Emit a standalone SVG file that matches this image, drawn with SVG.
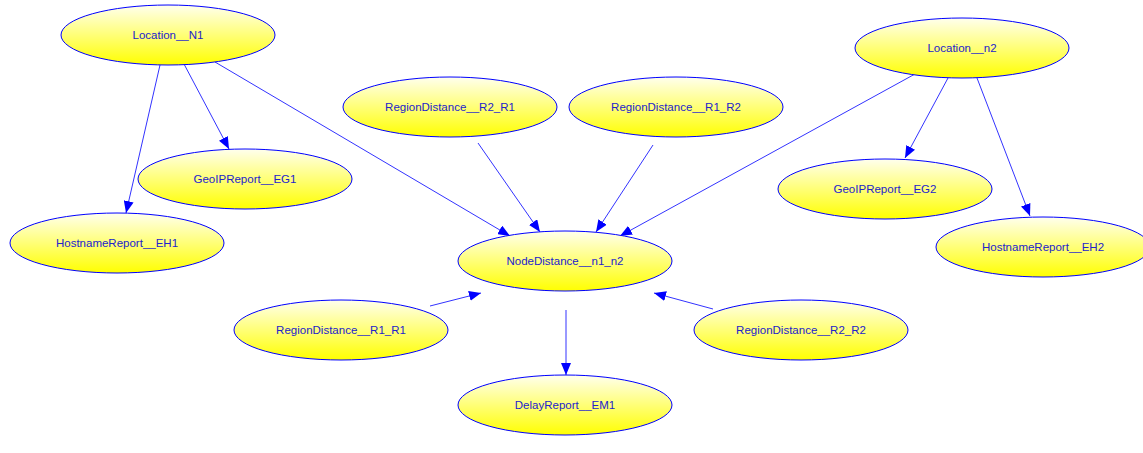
<svg xmlns="http://www.w3.org/2000/svg" width="1143" height="453" viewBox="0 0 1143 453">
<defs>
<linearGradient id="g" x1="0" y1="0" x2="0" y2="1">
<stop offset="0" stop-color="#ffffee"/>
<stop offset="1" stop-color="#ffff00"/>
</linearGradient>
<marker id="a" markerWidth="12" markerHeight="10" refX="12" refY="5" orient="auto" markerUnits="userSpaceOnUse">
<path d="M0,0 L12,5 L0,10 z" fill="#0000ff"/>
</marker>
<style>
.n ellipse{fill:url(#g);stroke:#0000ff;stroke-width:1}
.n text{font-family:"Liberation Sans",Arial,sans-serif;font-size:11.5px;fill:#2222cc;text-anchor:middle;dominant-baseline:central}
#edges line{stroke:#3333ff;stroke-width:1;marker-end:url(#a)}
</style>
</defs>
<rect width="1143" height="453" fill="#ffffff"/>
<g id="edges">
<line x1="160" y1="65" x2="126" y2="213"/>
<line x1="184" y1="64" x2="229" y2="149"/>
<line x1="215" y1="62" x2="510" y2="236"/>
<line x1="478" y1="143" x2="540" y2="232"/>
<line x1="653" y1="145" x2="596" y2="232"/>
<line x1="915" y1="74" x2="620" y2="236"/>
<line x1="948" y1="78" x2="905" y2="158"/>
<line x1="977" y1="78" x2="1030" y2="216"/>
<line x1="430" y1="306" x2="481" y2="293"/>
<line x1="713" y1="309" x2="654" y2="293"/>
<line x1="566" y1="310" x2="566" y2="375"/>
</g>
<g id="Location__N1" class="n"><ellipse cx="168" cy="35" rx="107" ry="30"/><text x="168" y="35">Location__N1</text></g>
<g id="Location__n2" class="n"><ellipse cx="962" cy="48" rx="107" ry="30"/><text x="962" y="48">Location__n2</text></g>
<g id="RegionDistance__R2_R1" class="n"><ellipse cx="450" cy="107" rx="107" ry="30"/><text x="450" y="107">RegionDistance__R2_R1</text></g>
<g id="RegionDistance__R1_R2" class="n"><ellipse cx="676" cy="107" rx="107" ry="30"/><text x="676" y="107">RegionDistance__R1_R2</text></g>
<g id="GeoIPReport__EG1" class="n"><ellipse cx="245" cy="179" rx="107" ry="30"/><text x="245" y="179">GeoIPReport__EG1</text></g>
<g id="GeoIPReport__EG2" class="n"><ellipse cx="885" cy="189" rx="107" ry="30"/><text x="885" y="189">GeoIPReport__EG2</text></g>
<g id="HostnameReport__EH1" class="n"><ellipse cx="117" cy="243" rx="107" ry="30"/><text x="117" y="243">HostnameReport__EH1</text></g>
<g id="HostnameReport__EH2" class="n"><ellipse cx="1043" cy="247" rx="107" ry="30"/><text x="1043" y="247">HostnameReport__EH2</text></g>
<g id="NodeDistance__n1_n2" class="n"><ellipse cx="565" cy="261" rx="107" ry="30"/><text x="565" y="261">NodeDistance__n1_n2</text></g>
<g id="RegionDistance__R1_R1" class="n"><ellipse cx="341" cy="330" rx="107" ry="30"/><text x="341" y="330">RegionDistance__R1_R1</text></g>
<g id="RegionDistance__R2_R2" class="n"><ellipse cx="801" cy="330" rx="107" ry="30"/><text x="801" y="330">RegionDistance__R2_R2</text></g>
<g id="DelayReport__EM1" class="n"><ellipse cx="565" cy="405" rx="107" ry="30"/><text x="565" y="405">DelayReport__EM1</text></g>
</svg>
